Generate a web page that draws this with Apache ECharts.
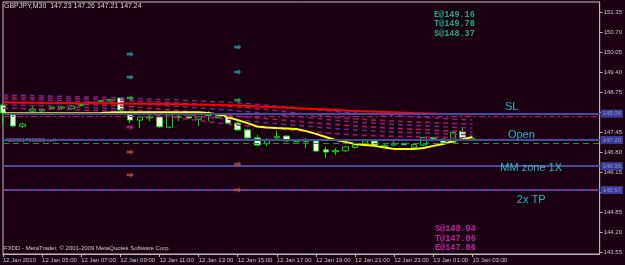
<!DOCTYPE html>
<html><head><meta charset="utf-8">
<script src="https://cdn.jsdelivr.net/npm/echarts@6/dist/echarts.min.js"></script>
<style>html,body{margin:0;padding:0;background:#1a0010;}#c{width:625px;height:265px;}</style>
</head><body><div id="c"></div>
<script>
// ---- data ----
const headerText = 'GBPJPY,M30  147.23 147.26 147.21 147.24';
const copyrightText = 'FXDD - MetaTrader, \u00a9 2001-2009 MetaQuotes Software Corp.';
const tickIdx = [0,4,8,12,16,20,24,28,32,36,40,44,48];
const tickText = ['12 Jan 2010','12 Jan 05:00','12 Jan 07:00','12 Jan 09:00','12 Jan 11:00','12 Jan 13:00','12 Jan 15:00','12 Jan 17:00','12 Jan 19:00','12 Jan 21:00','12 Jan 23:00','13 Jan 01:00','13 Jan 03:00'];
const slotCount = 62;
const yLabelValues = [151.35,150.70,150.05,149.40,148.75,147.45,146.80,146.15,144.85,144.20,143.55];
const yTickValues = [151.35,150.70,150.05,149.40,148.75,148.10,147.45,146.80,146.15,145.50,144.85,144.20,143.55];

const opens  = [148.34,148.02,147.65,148.14,148.15,148.22,148.24,148.22,148.32,148.40,148.45,148.47,148.57,148.02,147.85,147.92,147.95,147.62,147.94,147.98,147.88,148.00,147.93,147.95,147.75,147.53,147.27,147.08,147.27,147.33,147.15,147.15,147.17,146.88,146.82,146.85,146.96,147.04,147.17,146.98,147.04,147.09,146.96,147.04,147.28,147.23,147.12,147.48,147.23];
const closes = [148.08,147.66,147.72,148.20,148.19,148.27,148.28,148.31,148.36,148.43,148.48,148.52,148.18,147.85,147.95,147.95,147.63,148.02,147.97,147.92,147.96,148.06,148.00,147.75,147.53,147.27,147.04,147.22,147.32,147.17,147.19,147.18,146.84,146.81,146.86,146.98,147.04,147.17,147.04,147.03,147.08,147.05,147.05,147.28,147.24,147.12,147.45,147.28,147.24];
const lows   = [147.70,147.62,147.60,148.10,148.08,148.20,148.20,148.20,148.30,148.38,148.43,148.45,148.15,147.75,147.59,147.82,147.60,147.58,147.82,147.88,147.66,147.82,147.90,147.72,147.50,147.25,147.00,147.00,147.24,147.15,147.13,146.94,146.82,146.61,146.71,146.82,146.92,147.00,147.00,146.94,147.00,147.02,146.94,147.00,147.18,147.10,147.10,147.26,147.21];
const highs  = [148.40,148.05,147.75,148.30,148.22,148.30,148.32,148.33,148.38,148.45,148.50,148.54,148.60,148.15,148.00,148.02,147.98,148.05,148.03,148.00,147.98,148.14,148.02,147.98,147.80,147.56,147.37,147.25,147.50,147.35,147.21,147.27,147.20,146.98,146.94,147.00,147.06,147.20,147.20,147.06,147.20,147.11,147.07,147.30,147.30,147.24,147.47,147.62,147.26];

const yellowMA = [148.07,148.07,148.07,148.07,148.07,148.07,148.07,148.07,148.07,148.07,148.08,148.10,148.11,148.11,148.11,148.11,148.11,148.11,148.11,148.11,148.11,148.08,148.03,147.95,147.85,147.75,147.64,147.61,147.59,147.58,147.56,147.49,147.40,147.30,147.20,147.14,147.07,147.04,147.01,146.96,146.91,146.91,146.91,146.94,147.01,147.07,147.17,147.23,147.30];
const redIdx = [0,6,12,18,24,30,36,42,48];
const redMA  = [148.42,148.41,148.39,148.37,148.33,148.24,148.15,148.08,148.03];
const dashIdx = [0,12,24,36,48];
const dash1 = [148.67,148.57,148.41,148.08,147.85];
const dash2 = [148.60,148.50,148.28,147.89,147.72];
const dash3 = [148.54,148.41,148.15,147.79,147.59];
const dash4 = [148.44,148.31,147.98,147.66,147.46];
const dash5 = [148.35,148.21,147.85,147.53,147.37];
const dash6 = [148.24,148.12,147.69,147.37,147.27];

const levelPrices = [148.06,147.20,146.35,145.57];
const levelBoxText = ['148.06','147.20','146.35','145.57'];
const slDashPrice = 147.99;
const bidDashPrice = 147.10;

const textLabels = ['SL','Open','MM zone 1X','2x TP'];
const textIdx = [52,53,54,54];
const textPrice = [148.27,147.36,146.29,145.24];

const arrowIdx   = [13,13,13,13,13,13,24,24,24,24,24];
const arrowPrice = [150.00,149.25,148.57,147.62,146.81,146.06,150.23,149.42,148.50,146.42,145.57];
const arrowColor = ['#1aa0a0','#1aa0a0','#20c040','#d02070','#c05040','#c05040','#1aa0a0','#1aa0a0','#20c040','#c05040','#c05040'];

const topInfo = ['E@149.16','T@149.78','S@148.37'];
const bottomInfo = ['S@148.94','T@147.06','E@147.86'];
const orderText = '#20081790055 sell';

// ---- build ----
const categories = [];
for (let i = 0; i < slotCount; i++) {
  const m = 3*60 + i*30; const d = m >= 1440 ? 13 : 12; const mm = m % 1440;
  categories.push(d + ' Jan ' + String(Math.floor(mm/60)).padStart(2,'0') + ':' + String(mm%60).padStart(2,'0'));
}
const showTick = (idx) => tickIdx.indexOf(idx) >= 0;
const ohlc = opens.map((o,i)=>[o, closes[i], lows[i], highs[i]]);
const bg = '#1a0010';
const sparse = (ix, vals) => ix.map((x,i)=>[x, vals[i]]);
function dashSeries(vals, color){
  return {type:'line', data: sparse(dashIdx, vals), symbol:'none', smooth:0.3, z:3,
    lineStyle:{color:color, width:1.5, type:[5,4]}, silent:true};
}
const chart = echarts.init(document.getElementById('c'), null, {renderer:'canvas'});
const mono = 'Liberation Mono';
const sans = 'Liberation Sans';
chart.setOption({
  animation:false,
  backgroundColor: bg,
  grid:{left:2, right:23, top:2, bottom:11, show:true, borderColor:'#c0c0c0', borderWidth:1},
  xAxis:{type:'category', data:categories, boundaryGap:false,
    axisLine:{lineStyle:{color:'#b8b8b8'}},
    axisTick:{interval:(i)=>showTick(i), length:3, lineStyle:{color:'#b8b8b8'}},
    axisLabel:{interval:(i)=>showTick(i), formatter:(v,i)=>tickText[tickIdx.indexOf(i)]||'', align:'left', fontSize:6, color:'#c8c8c8', margin:3, fontFamily:sans, hideOverlap:false},
    splitLine:{show:false}},
  yAxis:{type:'value', position:'right', min:143.485, max:151.70, scale:true,
    axisLine:{show:true, lineStyle:{color:'#b8b8b8'}},
    axisTick:{show:true, length:3, customValues:yTickValues, lineStyle:{color:'#b8b8b8'}},
    axisLabel:{customValues:yLabelValues, formatter:(v)=>v.toFixed(2), fontSize:6, color:'#c8c8c8', margin:4, fontFamily:sans},
    splitLine:{show:false}},
  series:[
    {type:'candlestick', data:ohlc, barWidth:6, z:2,
      itemStyle:{color:bg, color0:'#ffffff', borderColor:'#00e000', borderColor0:'#00e000', borderWidth:1}},
    dashSeries(dash1,'#6a2a88'),
    dashSeries(dash2,'#b01070'),
    dashSeries(dash3,'#6a2a88'),
    dashSeries(dash4,'#c0106a'),
    dashSeries(dash5,'#6a2a88'),
    dashSeries(dash6,'#b01070'),
    {type:'line', data:sparse(redIdx, redMA), symbol:'none', smooth:0.3, z:4, lineStyle:{color:'#ff0000', width:2}},
    {type:'line', data:yellowMA, symbol:'none', z:4, lineStyle:{color:'#ffff00', width:2}},
    {type:'line', data:[], z:6, markLine:{symbol:['none','none'], silent:true, animation:false,
      data: levelPrices.map((p,i)=>({yAxis:p, lineStyle:{color:'#4848a8', width:2, type:'solid'},
        label:{show:true, position:'end', formatter:levelBoxText[i], backgroundColor:'#3c3c94', color:'#9090d0', fontSize:6, padding:[1,2], distance:1, fontFamily:sans}}))
      .concat([
        {yAxis:slDashPrice, lineStyle:{color:'#c01060', width:1, type:[6,3,2,3]}, label:{show:false}},
        {yAxis:bidDashPrice, lineStyle:{color:'#10a010', width:1, type:[6,4]}, label:{show:false}},
        {yAxis:levelPrices[3], lineStyle:{color:'#b02080', width:1, type:[5,7]}, label:{show:false}}
      ])}},
    {type:'scatter', data:arrowIdx.map((x,i)=>({value:[x, arrowPrice[i]], itemStyle:{color:arrowColor[i]}})),
      symbol:'path://M0,2 L4,2 L4,0 L7,3.5 L4,7 L4,5 L0,5 Z', symbolSize:[7,6], z:7, silent:true},
    {type:'scatter', data:textIdx.map((x,i)=>[x, textPrice[i]]), symbolSize:1, itemStyle:{color:'rgba(0,0,0,0)'}, z:8, silent:true,
      label:{show:true, position:'inside', formatter:(p)=>textLabels[p.dataIndex], color:'#30e0e0', fontSize:11, fontFamily:sans}}
  ],
  graphic:[
    {type:'text', left:4, top:3, style:{text:headerText, fill:'#d8d8d8', fontSize:7, fontFamily:sans}},
    {type:'text', left:4, top:245, style:{text:copyrightText, fill:'#d0d0d0', fontSize:6, fontFamily:sans}},
    {type:'text', left:5, top:137, style:{text:orderText, fill:'#9090a8', fontSize:6, fontFamily:sans}},
    {type:'text', left:434, top:10, style:{text:topInfo.join('\n'), fill:'#20a888', fontSize:8.5, lineHeight:9.4, fontFamily:mono, fontWeight:'bold'}},
    {type:'text', left:435, top:224, style:{text:bottomInfo.join('\n'), fill:'#c020b0', fontSize:8.5, lineHeight:9.6, fontFamily:mono, fontWeight:'bold'}}
  ]
});
</script></body></html>
